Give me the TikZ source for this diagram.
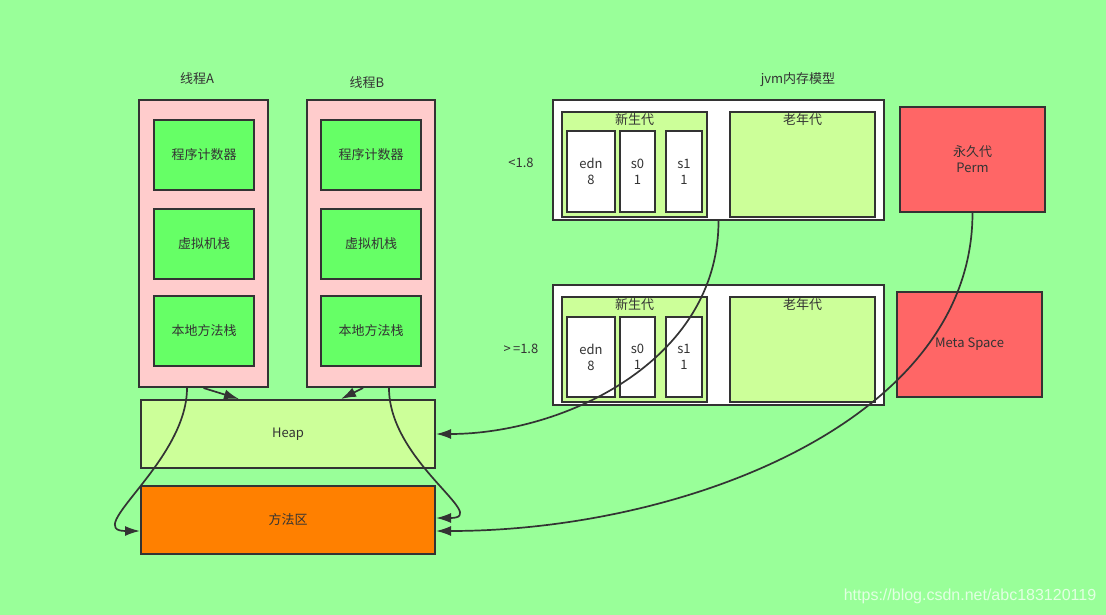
\documentclass[tikz,border=0pt]{standalone}
\usepackage{fontspec}
\setmainfont{Noto Sans CJK SC}
\newfontfamily\wmfont{Liberation Sans}
\usetikzlibrary{arrows.meta}
\definecolor{bg}{HTML}{99FF99}
\definecolor{lc}{HTML}{333333}
\definecolor{thr}{HTML}{FFCCCC}
\definecolor{grn}{HTML}{66FF66}
\definecolor{lgr}{HTML}{CCFF99}
\definecolor{ora}{HTML}{FF8000}
\definecolor{red1}{HTML}{FF6666}
\tikzset{
  bx/.style={draw=lc, line width=2pt, inner sep=0pt, anchor=north west,
    text=lc, align=center, font=\fontsize{13}{16}\selectfont},
  txt/.style={text=lc, inner sep=0pt, font=\fontsize{13}{16}\selectfont},
  toplab/.style={label={[anchor=north, inner sep=0pt, yshift=-2pt, text=lc, font=\fontsize{13}{16}\selectfont]north:#1}},
  conn/.style={draw=lc, line width=1.7pt, -{Latex[length=15pt,width=10pt]}},
}
\begin{document}
\begin{tikzpicture}[x=1pt, y=-1pt]
\useasboundingbox (0,0) rectangle (1106,615);
\fill[bg] (0,0) rectangle (1106,615);

% threads
\node[txt] (labA) at (197,79) {线程A};
\node[txt] (labB) at (367,83) {线程B};
\node[bx, fill=thr, minimum width=129pt, minimum height=287pt] (tA) at (138,99) {};
\node[bx, fill=thr, minimum width=128pt, minimum height=287pt] (tB) at (306,99) {};
\node[bx, fill=grn, minimum width=100pt, minimum height=70pt] (a1) at (153,119) {程序计数器};
\node[bx, fill=grn, minimum width=100pt, minimum height=70pt] (a2) at (153,208) {虚拟机栈};
\node[bx, fill=grn, minimum width=100pt, minimum height=70pt] (a3) at (153,295) {本地方法栈};
\node[bx, fill=grn, minimum width=100pt, minimum height=70pt] (b1) at (320,119) {程序计数器};
\node[bx, fill=grn, minimum width=100pt, minimum height=70pt] (b2) at (320,208) {虚拟机栈};
\node[bx, fill=grn, minimum width=100pt, minimum height=70pt] (b3) at (320,295) {本地方法栈};

% heap and method area
\node[bx, fill=lgr, minimum width=294pt, minimum height=68pt] (heap) at (140,399) {Heap};
\node[bx, fill=ora, minimum width=294pt, minimum height=68pt] (mf) at (140,485) {方法区};

% jvm < 1.8
\node[txt] (labjvm) at (798,80) {jvm内存模型};
\node[txt] (lt18) at (521,163) {<1.8};
\node[bx, fill=white, minimum width=331pt, minimum height=120pt] (jvm1) at (552,99) {};
\node[bx, fill=lgr, minimum width=145pt, minimum height=105pt, toplab=新生代] (g1) at (561,111) {};
\node[bx, fill=white, minimum width=48pt, minimum height=81pt] (e1) at (566,130) {edn\\8};
\node[bx, fill=white, minimum width=35pt, minimum height=81pt] (s01) at (619,130) {s0\\1};
\node[bx, fill=white, minimum width=36pt, minimum height=81pt] (s11) at (665,130) {s1\\1};
\node[bx, fill=lgr, minimum width=145pt, minimum height=105pt, toplab=老年代] (o1) at (729,111) {};
\node[bx, fill=red1, minimum width=145pt, minimum height=105pt] (perm) at (899,106) {永久代\\Perm};

% jvm >= 1.8
\node[txt] (ge18) at (521,349) {>\,=1.8};
\node[bx, fill=white, minimum width=331pt, minimum height=120pt] (jvm2) at (552,284) {};
\node[bx, fill=lgr, minimum width=145pt, minimum height=105pt, toplab=新生代] (g2) at (561,296) {};
\node[bx, fill=white, minimum width=48pt, minimum height=80pt] (e2) at (566,316) {edn\\8};
\node[bx, fill=white, minimum width=35pt, minimum height=80pt] (s02) at (619,316) {s0\\1};
\node[bx, fill=white, minimum width=36pt, minimum height=80pt] (s12) at (665,316) {s1\\1};
\node[bx, fill=lgr, minimum width=145pt, minimum height=105pt, toplab=老年代] (o2) at (729,296) {};
\node[bx, fill=red1, minimum width=145pt, minimum height=105pt] (meta) at (896,291) {Meta Space};

% connectors
\draw[conn] (tA.south) -- ([xshift=-49pt]heap.north);
\draw[conn] ([xshift=-8pt]tB.south) -- ([xshift=53pt]heap.north);
\draw[conn] ([xshift=-16.5pt]tA.south) .. controls +(0,74) and +(-59,0) .. ([yshift=-11pt]mf.west);
\draw[conn] ([xshift=18pt]tB.south) .. controls +(0,74) and +(56,0) .. ([yshift=2pt]mf.east);
\draw[conn] (jvm1.south) .. controls +(0,141) and +(126,0) .. (heap.east);
\draw[conn] (perm.south) .. controls +(0,209) and +(246,0) .. ([yshift=-11pt]mf.east);

% watermark
\node[inner sep=0pt, text=white!72!bg, font=\wmfont\fontsize{16}{18}\selectfont] (wm) at (970,596) {https://blog.csdn.net/abc183120119};
\end{tikzpicture}
\end{document}
